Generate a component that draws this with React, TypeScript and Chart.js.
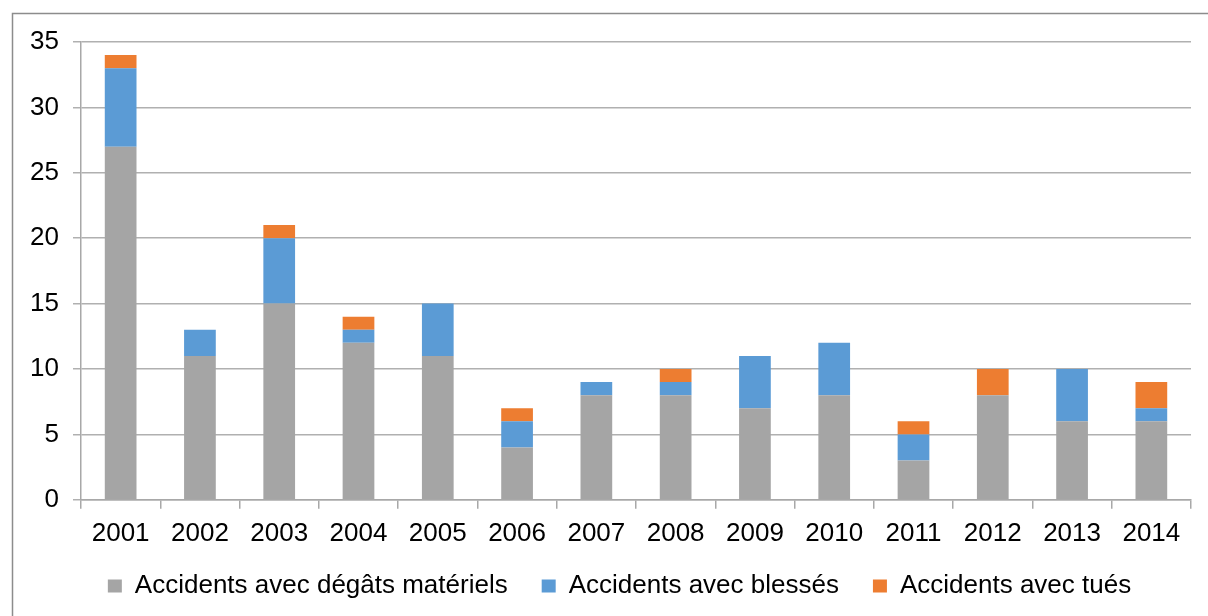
import React, { useEffect, useRef } from "react";
import { Chart, registerables } from "chart.js";

Chart.register(...registerables);

const years = ["2001","2002","2003","2004","2005","2006","2007","2008","2009","2010","2011","2012","2013","2014"];
const materiel = [27, 11, 15, 12, 11, 4, 8, 8, 7, 8, 3, 8, 6, 6];
const blesses = [6, 2, 5, 1, 4, 2, 1, 1, 4, 4, 2, 0, 4, 1];
const tues = [1, 0, 1, 1, 0, 1, 0, 1, 0, 0, 1, 2, 0, 2];
const seriesNames = ["Accidents avec dégâts matériels", "Accidents avec blessés", "Accidents avec tués"];
const yTicks = [0, 5, 10, 15, 20, 25, 30, 35];

const FONT = "'Liberation Sans', Arial, sans-serif";

const frame = {
  id: "frame",
  beforeDraw(chart: any) {
    const ctx = chart.ctx;
    ctx.save();
    ctx.fillStyle = "#ffffff";
    ctx.fillRect(0, 0, chart.width, chart.height);
    ctx.strokeStyle = "#8c8c8c";
    ctx.lineWidth = 1.5;
    ctx.beginPath();
    ctx.moveTo(12.5, chart.height + 5);
    ctx.lineTo(12.5, 13.5);
    ctx.lineTo(chart.width + 5, 13.5);
    ctx.stroke();
    ctx.restore();
  },
};

const legendTweak = {
  id: "legendTweak",
  beforeLayout(chart: any) {
    const lg = chart.legend;
    if (lg && !lg.__wrapped) {
      const orig = lg.fit.bind(lg);
      lg.fit = function () {
        orig();
        this.height = this.height - 17;
      };
      lg.__wrapped = true;
    }
  },
  afterLayout(chart: any) {
    const lg = chart.legend;
    if (lg) {
      lg.top -= 19;
      lg.bottom = chart.height;
      lg.height = lg.bottom - lg.top;
      lg.left += 14;
      lg.right += 14;
    }
  },
};

export default function App() {
  const ref = useRef<HTMLCanvasElement>(null);
  useEffect(() => {
    if (!ref.current) return;
    const chart = new Chart(ref.current, {
      type: "bar",
      data: {
        labels: years,
        datasets: [
          { label: seriesNames[0], data: materiel, backgroundColor: "#A5A5A5" },
          { label: seriesNames[1], data: blesses, backgroundColor: "#5B9BD5" },
          { label: seriesNames[2], data: tues, backgroundColor: "#ED7D31" },
        ],
      },
      options: {
        animation: false,
        responsive: false,
        maintainAspectRatio: false,
        datasets: { bar: { categoryPercentage: 1, barPercentage: 0.4 } },
        layout: { padding: { left: 20, right: 17, top: 42, bottom: 5 } },
        plugins: {
          tooltip: { enabled: false },
          legend: {
            position: "bottom",
            labels: {
              color: "#000",
              font: { family: FONT, size: 26 },
              boxWidth: 14,
              boxHeight: 13,
              padding: 34,
            },
          },
        },
        scales: {
          x: {
            stacked: true,
            grid: {
              offset: true,
              drawOnChartArea: false,
              drawTicks: true,
              tickLength: 9,
              color: "#a8a8a8",
              lineWidth: 1.5,
            },
            border: { color: "#a8a8a8", width: 1.5 },
            ticks: { color: "#000", font: { family: FONT, size: 26 }, padding: 9, maxRotation: 0 },
          },
          y: {
            stacked: true,
            min: 0,
            max: 35,
            afterBuildTicks: (s: any) => {
              s.ticks = yTicks.map((v) => ({ value: v }));
            },
            afterFit: (s: any) => {
              s.width = 61;
            },
            grid: { color: "#b0b0b0", lineWidth: 1.5, tickLength: 8 },
            border: { color: "#a8a8a8", width: 1.5 },
            ticks: { color: "#000", font: { family: FONT, size: 26 }, padding: 14 },
          },
        },
      },
      plugins: [frame, legendTweak],
    });
    return () => chart.destroy();
  }, []);
  return (
    <canvas
      ref={ref}
      width={1208}
      height={616}
      style={{ position: "fixed", left: 0, top: 0, width: 1208, height: 616 }}
    />
  );
}
